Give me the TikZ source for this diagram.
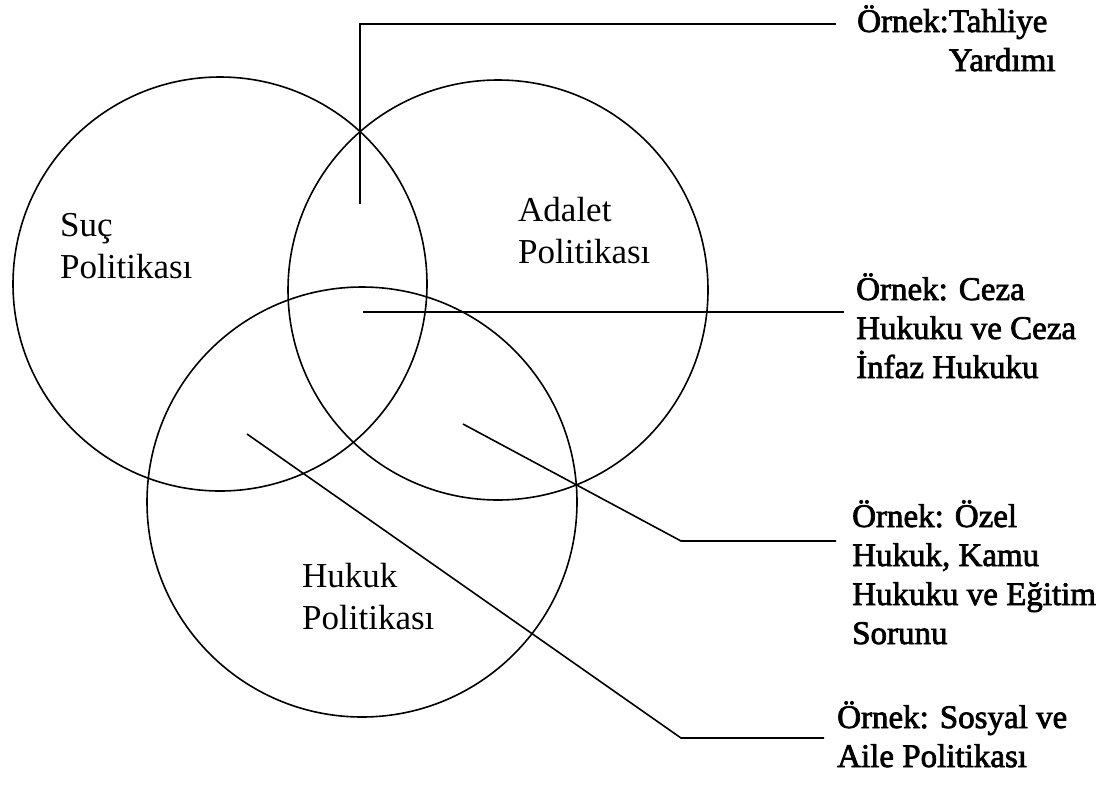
\documentclass[tikz,border=0pt]{standalone}
\usepackage{fontspec}
\setmainfont{Liberation Serif}
\newfontfamily\lblfont{Liberation Serif}[FakeBold=2.2]
\tikzset{
  ring/.style={draw=black, line width=1.6pt},
  lead/.style={draw=black, line width=1.6pt},
  setlabel/.style={anchor=base west, inner sep=0pt, align=left, font=\fontsize{35}{42}\selectfont},
  exlabel/.style={anchor=base west, inner sep=0pt, align=left, font=\lblfont\fontsize{33}{39}\selectfont}
}
\begin{document}
\begin{tikzpicture}[x=1pt,y=-1pt]
\fill[white] (0,0) rectangle (1100,785);
\useasboundingbox (0,0) rectangle (1100,785);
% circles
\draw[ring] (220,284) circle[radius=207pt];
\draw[ring] (498,290) circle[radius=210pt];
\draw[ring] (362,502) circle[radius=215pt];
% set labels (anchor = baseline of last line)
\node[setlabel] (suc) at (60,278) {Suç\\Politikası};
\node[setlabel] (adalet) at (518,263) {Adalet\\Politikası};
\node[setlabel] (hukuk) at (302,629) {Hukuk\\Politikası};
% example labels
\node[exlabel] (ex1) at (857,71) {Örnek:Tahliye\\\phantom{Örnek:}Yardımı};
\node[exlabel] (ex2) at (856,378) {Örnek: Ceza\\Hukuku ve Ceza\\İnfaz Hukuku};
\node[exlabel] (ex3) at (852,644) {Örnek: Özel\\Hukuk, Kamu\\Hukuku ve Eğitim\\Sorunu};
\node[exlabel] (ex4) at (837,767) {Örnek: Sosyal ve\\Aile Politikası};
% leader coordinates
\coordinate (a1) at (360,204);
\coordinate (a2) at (360,24);
\coordinate (a3) at (836,24);
\coordinate (b1) at (363,312);
\coordinate (b2) at (844,312);
\coordinate (c1) at (463,424);
\coordinate (c2) at (681,541);
\coordinate (c3) at (836,541);
\coordinate (d1) at (247,434);
\coordinate (d2) at (681,738);
\coordinate (d3) at (824,738);
% leaders
\draw[lead] (a1) -- (a2) -- (a3);
\draw[lead] (b1) -- (b2);
\draw[lead] (c1) -- (c2) -- (c3);
\draw[lead] (d1) -- (d2) -- (d3);
\end{tikzpicture}
\end{document}
